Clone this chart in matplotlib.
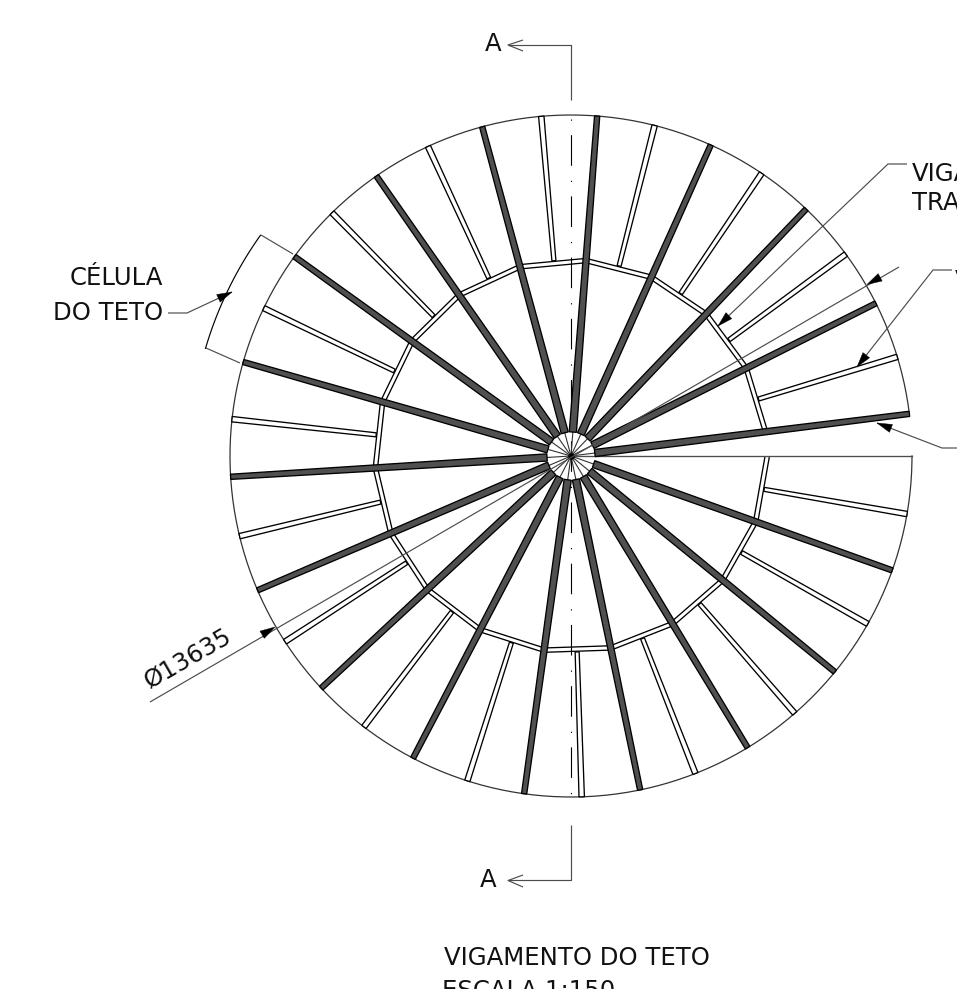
import numpy as np
import matplotlib
matplotlib.use("Agg")
import matplotlib.pyplot as plt
from matplotlib.patches import Polygon

# angles in degrees (counter clockwise from east)
main_beams = [7.1, 26.6, 46.4, 65.8, 85.6, 105.1, 124.8, 144.2, 164.0,
              183.5, 203.2, 222.9, 242.4, 262.1, 281.7, 301.2, 320.7, 340.4]
sec_beams = [16.9, 36.3, 56.0, 75.8, 95.0, 114.8, 134.5, 154.3, 173.8,
             193.6, 213.0, 232.6, 252.3, 271.8, 291.4, 311.0, 330.5, 350.2]
ring_end = 359.5

title_lines = ["VIGAMENTO DO TETO", "ESCALA 1:150"]
cell_lines = ["CÉLULA", "DO TETO"]
diam_label = "Ø13635"
section_label = "A"

CX, CY = 571, 456
R_OUT = 341
R_RING = 196
R_HUB = 24
R_CELL = 381
GRAY = "#4d4d4d"
FS = 17.6

plt.rcParams['font.family'] = ['DejaVu Sans']
fig = plt.figure(figsize=(9.57, 9.89), dpi=100)
ax = fig.add_axes([0, 0, 1, 1])
ax.set_xlim(0, 957)
ax.set_ylim(989, 0)
ax.axis("off")


def pol(r, ang):
    a = np.radians(ang)
    return CX + r * np.cos(a), CY - r * np.sin(a)


def beam_outline(ang, r0, r1, w0, w1):
    a = np.radians(ang)
    d = np.array([np.cos(a), -np.sin(a)])
    n = np.array([np.sin(a), np.cos(a)])
    c = np.array([CX, CY])
    return [c + d * r0 + n * w0, c + d * r1 + n * w1, c + d * r1 - n * w1, c + d * r0 - n * w0]


def leader(xs, ys, color=GRAY, lw=0.85):
    ax.plot(xs, ys, color=color, lw=lw, solid_capstyle="butt", zorder=6)


def solid_head(tip, tail, length=15, half=4.2):
    tip = np.array(tip, float)
    tail = np.array(tail, float)
    d = (tail - tip) / np.linalg.norm(tail - tip)
    n = np.array([-d[1], d[0]])
    b = tip + d * length
    ax.add_patch(Polygon([tip, b + n * half, b - n * half], fc="black", ec="black", lw=0.3, zorder=7))


# outer arc, open between the last cut and the first beam
th = np.linspace(main_beams[0], 360, 400)
ax.plot(*pol(R_OUT, th), color="#333333", lw=0.9, zorder=2)

# ring beam as chords between the main beams
ring_ang = main_beams + [ring_end]
for dr in (-2.2, 2.2):
    ax.plot(*pol(R_RING + dr, np.array(ring_ang)), color="black", lw=0.95, zorder=2)

# secondary beams, ring to outer arc
for ang in sec_beams:
    pts = beam_outline(ang, R_RING, R_OUT, 2.0, 2.7)
    ax.add_patch(Polygon(pts, fc="white", ec="black", lw=0.95, zorder=3))

# main beams, hub to outer arc
for ang in main_beams:
    pts = beam_outline(ang, R_HUB, R_OUT, 3.6, 2.6)
    ax.add_patch(Polygon(pts, fc="#505050", ec="black", lw=0.95, zorder=4))
    ax.plot(*pol(np.array([0, R_HUB]), ang), color="#333333", lw=0.8, zorder=3)

# cut line at 0 degrees and hub centre
ax.plot([CX, CX + R_OUT], [CY, CY], color=GRAY, lw=0.95, zorder=3)
ax.plot([CX], [CY], "o", ms=3.6, color="black", zorder=6)

# centre line
ax.plot([CX, CX], [119, 808], color="black", lw=0.8, zorder=1,
        dashes=(1.1, 13.0, 27.5, 13.5), dash_capstyle="butt")

# section marks
leader([CX, CX, 508], [100, 45, 45])
leader([523, 508, 523], [40, 45, 51])
leader([CX, CX, 508], [825, 880, 880])
leader([523, 508, 523], [875, 880.5, 887])
ax.text(493, 44, section_label, fontsize=FS, ha="center", va="center", color="#111111")
ax.text(488, 880, section_label, fontsize=FS, ha="center", va="center", color="#111111")

# diameter dimension
leader([150, 899], [702, 267])
solid_head((275, 627), (150, 702))
solid_head((867, 284.5), (899, 267))
ax.text(188, 658, diam_label, fontsize=FS, rotation=30, rotation_mode="anchor",
        ha="center", va="center", color="#111111")

# leaders on the right, their text runs off the sheet
leader([907, 888, 718], [164, 164, 326])
solid_head((718, 326), (888, 164))
leader([952, 933, 857], [270, 270, 367])
solid_head((857, 367), (933, 270))
leader([957, 942, 877], [448, 448, 423])
solid_head((877, 423), (942, 448))
ax.text(912, 174, "VIGA", fontsize=FS, ha="left", va="center", color="#111111")
ax.text(912, 203, "TRANSVERSAL", fontsize=FS, ha="left", va="center", color="#111111")
ax.text(955, 281, "VIGA", fontsize=FS, ha="left", va="center", color="#111111")
ax.text(955, 309, "PRINCIPAL", fontsize=FS, ha="left", va="center", color="#111111")

# roof cell bracket
ax.plot(*pol(R_CELL, np.linspace(144.6, 163.6, 40)), color="black", lw=0.85, zorder=6)
leader([293, 261], [254, 235])
leader([240, 206], [363, 348])
leader([168, 187, 232], [313, 313, 292])
solid_head((232, 292), (187, 313))
ax.text(163, 278, cell_lines[0], fontsize=FS, ha="right", va="center", color="#111111")
ax.text(163, 313, cell_lines[1], fontsize=FS, ha="right", va="center", color="#111111")

# title
ax.text(444, 958, title_lines[0], fontsize=FS, ha="left", va="center", color="#111111")
ax.text(442, 991, title_lines[1], fontsize=FS, ha="left", va="center", color="#111111")

fig.savefig("out.png", dpi=100, facecolor="white")
